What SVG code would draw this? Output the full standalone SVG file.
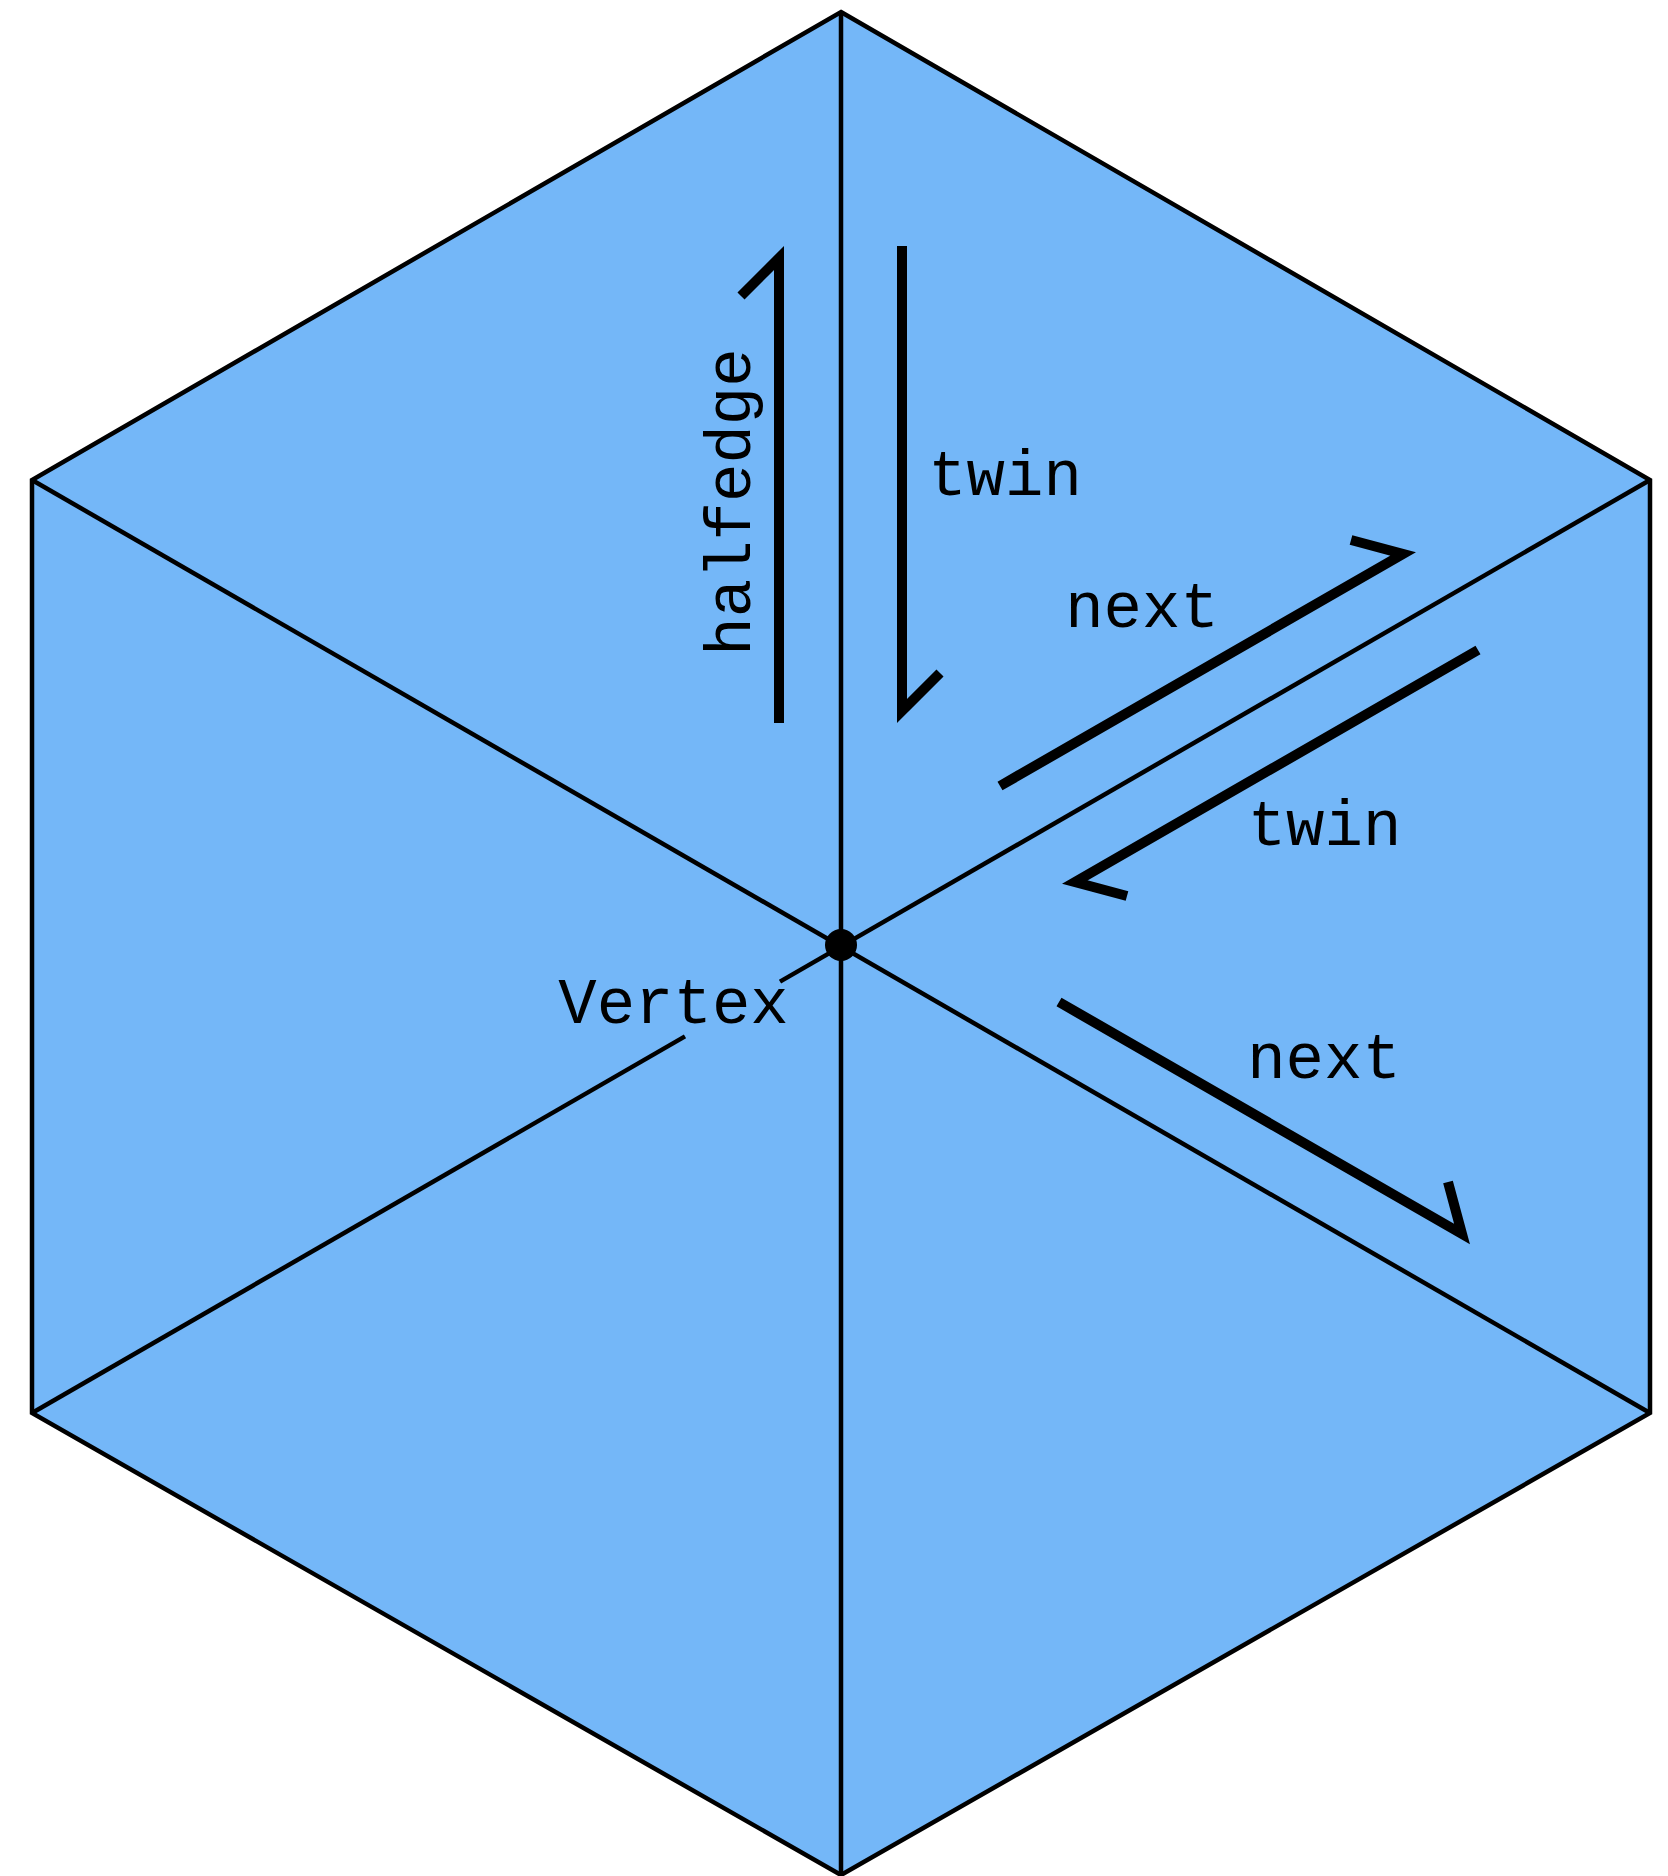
<svg xmlns="http://www.w3.org/2000/svg" width="1668" height="1876" viewBox="0 0 1668 1876">
  <style>
    .edge { stroke: #000; stroke-width: 4.5; fill: none; }
    .arrow { stroke: #000; stroke-width: 10; fill: none; stroke-linejoin: miter; stroke-miterlimit: 10; }
    .lbl { font-family: "Courier New", "Nimbus Mono PS", "Nimbus Mono L", "FreeMono", "Liberation Mono", monospace; font-size: 64px; fill: #000; text-anchor: middle; }
  </style>
  <rect x="0" y="0" width="1668" height="1876" fill="#ffffff"/>
  <g id="mesh">
    <polygon points="841,12 1650,480 1650,1413 841,1875 32,1413 32,480" fill="#74b7f8" stroke="#000" stroke-width="4.5" stroke-linejoin="miter"/>
  </g>
  <g id="connectors">
    <line class="edge" x1="841" y1="12" x2="841" y2="1875"/>
    <line class="edge" x1="32" y1="480" x2="1650" y2="1413"/>
    <line class="edge" x1="1650" y1="480" x2="780" y2="981.6"/>
    <line class="edge" x1="685" y1="1036.4" x2="32" y2="1413"/>
    <polyline id="halfedge-arrow" class="arrow" points="779,723 779,258 741,296"/>
    <polyline id="twin-arrow-1" class="arrow" points="902,246 902,711 940,673"/>
    <polyline id="next-arrow-1" class="arrow" points="1000,786 1403,554 1351,540"/>
    <polyline id="twin-arrow-2" class="arrow" points="1478,650 1075,882 1127,896"/>
    <polyline id="next-arrow-2" class="arrow" points="1059,1002 1462,1234 1448,1182"/>
  </g>
  <g id="vertex">
    <circle cx="841" cy="945" r="16" fill="#000"/>
    <text class="lbl" x="673.5" y="1023">Vertex</text>
  </g>
  <g id="label-halfedge">
    <text class="lbl" transform="translate(750,502) rotate(-90)" x="0" y="0">halfedge</text>
  </g>
  <g id="label-twin-1">
    <text class="lbl" x="1005" y="495">twin</text>
  </g>
  <g id="label-next-1">
    <text class="lbl" x="1142" y="627">next</text>
  </g>
  <g id="label-twin-2">
    <text class="lbl" x="1324.5" y="845">twin</text>
  </g>
  <g id="label-next-2">
    <text class="lbl" x="1324" y="1078">next</text>
  </g>
</svg>
